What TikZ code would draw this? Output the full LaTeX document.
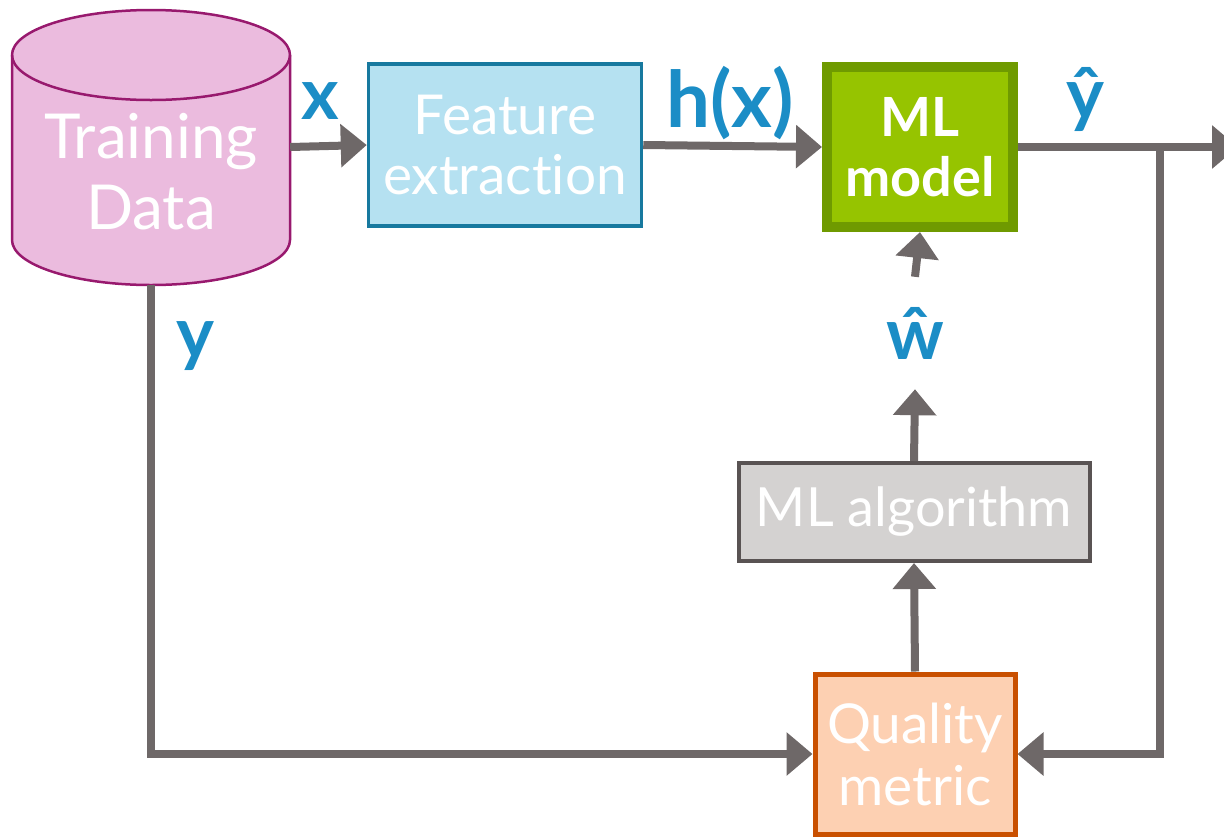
\documentclass[tikz,border=0pt]{standalone}
\usepackage{fontspec}
\setmainfont{Lato}[Ligatures=NoCommon]
\usetikzlibrary{arrows.meta,shadows,positioning}

\definecolor{datapink}{HTML}{EBBBDE}
\definecolor{datapurple}{HTML}{98196E}
\definecolor{featblue}{HTML}{B5E1F1}
\definecolor{featedge}{HTML}{17799F}
\definecolor{modelgreen}{HTML}{96C400}
\definecolor{modeledge}{HTML}{6F9A00}
\definecolor{alggrey}{HTML}{D4D2D1}
\definecolor{algedge}{HTML}{595353}
\definecolor{qualfill}{HTML}{FDD0B2}
\definecolor{qualedge}{HTML}{C95000}
\definecolor{varblue}{HTML}{1B8DC6}
\definecolor{arrowgrey}{HTML}{6E6868}

\begin{document}
\begin{tikzpicture}[x=1pt,y=-1pt]
\tikzset{boxnode/.style={rectangle,draw,text=white,align=center,inner sep=0},
boxtext/.style={text=white,align=center,inner sep=0},
varlabel/.style={text=varblue,font=\fontsize{72}{72}\selectfont\bfseries,inner sep=0},
flowarrow/.style={draw=arrowgrey,line width=8pt,-{Triangle[width=42pt,length=26pt]}}}

\useasboundingbox (0,0) rectangle (1224,839);

%% data store (cylinder)
\draw[draw=datapurple,fill=datapink,line width=2.5pt] (12,55) -- (12,240)
  arc[start angle=180,end angle=0,x radius=139,y radius=45] -- (290,55)
  arc[start angle=0,end angle=-180,x radius=139,y radius=45] -- cycle;
\draw[datapurple,line width=2.5pt] (12,55) arc[start angle=180,end angle=0,x radius=139,y radius=45];
\node (data) [inner sep=0,minimum width=278pt,minimum height=275pt] at (151,147) {};
\node (datatext) [boxtext,font=\fontsize{62}{71}\selectfont] at (151,172) {Training\\Data};

\node (feat) [boxnode,draw=featedge,fill=featblue,line width=3.5pt,minimum width=273pt,
  minimum height=162pt,font=\fontsize{55}{60}\selectfont] at (505,145) {Feature\\extraction};

\node (model) [boxnode,draw=modeledge,fill=modelgreen,line width=10pt,minimum width=186pt,
  minimum height=160pt,font=\fontsize{54}{60}\selectfont\bfseries,
  drop shadow={opacity=0.25,shadow xshift=3pt,shadow yshift=-3pt}] at (920,147) {ML\\model};

\node (alg) [boxnode,draw=algedge,fill=alggrey,line width=4pt,minimum width=351pt,
  minimum height=98pt,font=\fontsize{54}{58}\selectfont] at (914,512) {ML algorithm};

\node (qual) [boxnode,draw=qualedge,fill=qualfill,line width=5pt,minimum width=200pt,
  minimum height=160pt,font=\fontsize{55}{62}\selectfont] at (915,754) {Quality\\metric};

%% labels
\node (xlab) [varlabel] at (320,101) {x};
\node (hlab) [varlabel,font=\fontsize{78}{78}\selectfont\bfseries] at (730,103) {h(x)};
\node (yhatlab) [varlabel] at (1085,99) {ŷ};
\node (ylab) [varlabel] at (195,346) {y};
\node (what) [varlabel,minimum height=112pt] at (915,333) {ŵ};

\coordinate (split) at (1160,147);
\coordinate (outend) at (1238,147);

%% Edges
\draw[flowarrow] (data.east) -- (feat.west);
\draw[flowarrow] (feat.east) -- (model.west);
\draw[flowarrow] (model.east) -- (outend);
\draw[flowarrow] (split) |- (qual.east);
\draw[flowarrow] (data.south) |- (qual.west);
\draw[flowarrow] (qual.north) -- (alg.south);
\draw[flowarrow] (alg.north) -- (what.south);
\draw[flowarrow] (what.north) -- (model.south);

\end{tikzpicture}
\end{document}
